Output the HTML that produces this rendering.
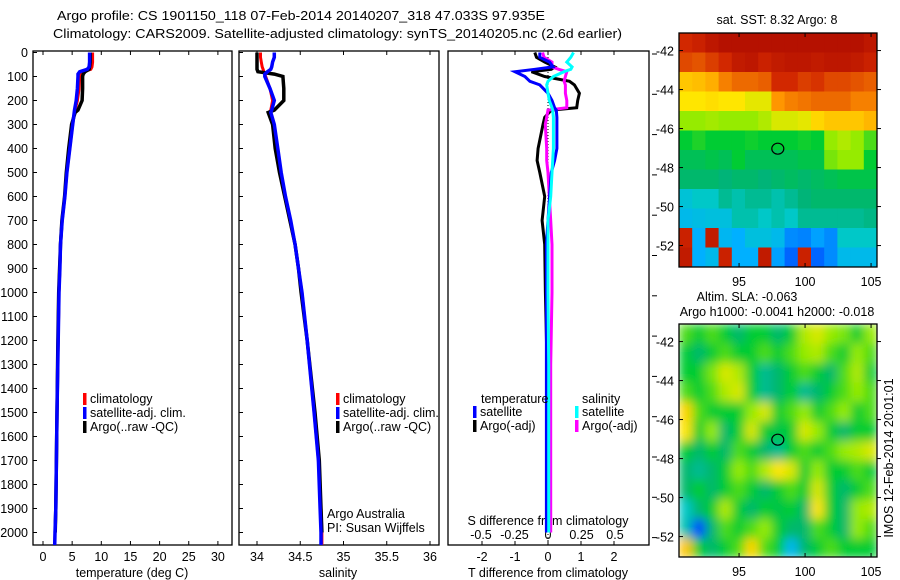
<!DOCTYPE html>
<html><head><meta charset="utf-8">
<style>
html,body{margin:0;padding:0;background:#fff;}
svg{display:block;font-family:"Liberation Sans",sans-serif;}
text{font-size:12.5px;fill:#000;}
</style></head>
<body>
<svg id="fig" width="900" height="580" viewBox="0 0 900 580" xmlns="http://www.w3.org/2000/svg">
<defs>
<clipPath id="cp1"><rect x="33" y="51" width="199" height="494"/></clipPath>
<clipPath id="cp2"><rect x="239" y="51" width="200" height="494"/></clipPath>
<clipPath id="cp3"><rect x="448" y="51" width="201" height="494"/></clipPath>
<clipPath id="cpm1"><rect x="679" y="33" width="198" height="234"/></clipPath>
<clipPath id="cpm2"><rect x="679" y="324" width="198" height="233"/></clipPath>
<filter id="blur" x="679" y="324" width="198" height="233" filterUnits="userSpaceOnUse"><feGaussianBlur stdDeviation="5" edgeMode="duplicate"/></filter>
</defs>
<text x="57" y="20" textLength="488" lengthAdjust="spacingAndGlyphs">Argo profile: CS 1901150_118 07-Feb-2014 20140207_318 47.033S 97.935E</text>
<text x="53" y="38" textLength="569" lengthAdjust="spacingAndGlyphs">Climatology: CARS2009. Satellite-adjusted climatology: synTS_20140205.nc (2.6d earlier)</text>
<g id="g"></g>
</svg>
<script>
// ---------- data ----------
const depthTicks=[0,100,200,300,400,500,600,700,800,900,1000,1100,1200,1300,1400,1500,1600,1700,1800,1900,2000];
const tempTicks=[0,5,10,15,20,25,30];
const salTicks=[34,34.5,35,35.5,36];
const salTickLabels=["34","34.5","35","35.5","36"];
const tdTicks=[-2,-1,0,1,2];
const sdTicks=[-0.5,-0.25,0,0.25,0.5];
const sdTickLabels=["-0.5","-0.25","0","0.25","0.5"];

const profDepth=[0,20,40,60,70,80,90,100,150,200,240,250,300,400,500,600,700,800,900,1000,1200,1500,1700,1900,2000,2055];
const tempClim=[8.5,8.5,8.5,8.4,8.2,7.0,6.4,6.3,6.2,5.9,5.5,5.4,5.1,4.6,4.1,3.75,3.3,3.0,2.9,2.75,2.6,2.4,2.3,2.2,2.05,2.0];
const tempSat=[8.0,8.0,8.0,7.9,7.6,6.3,6.0,6.0,5.9,5.7,5.4,5.35,5.1,4.6,4.1,3.75,3.3,3.0,2.9,2.75,2.6,2.4,2.3,2.2,2.05,2.0];
const tempArgo=[8.1,8.1,8.1,8.0,7.9,7.2,6.9,6.8,6.8,6.7,6.0,5.5,4.9,4.4,4.0,3.7,3.25,3.0,2.85,2.7,2.55,2.4,2.3,2.2,2.1,null];

const salClim=[34.04,34.04,34.05,34.06,34.07,34.08,34.09,34.1,34.15,34.18,34.16,34.14,34.19,34.23,34.27,34.32,34.38,34.44,34.48,34.52,34.58,34.66,34.71,34.74,34.75,34.75];
const salSat=[34.2,34.2,34.18,34.17,34.16,34.12,34.09,34.09,34.15,34.2,34.17,34.16,34.2,34.24,34.28,34.33,34.39,34.44,34.48,34.52,34.58,34.66,34.71,34.73,34.74,34.74];
const salArgo=[34.0,34.0,34.0,34.0,34.0,34.01,34.2,34.3,34.31,34.31,34.2,34.13,34.18,34.21,34.26,34.32,34.38,34.44,34.48,34.51,34.58,34.67,34.72,34.74,34.75,null];

const diffDepth=[0,20,40,60,70,80,100,120,135,170,200,230,240,270,300,400,450,500,600,700,800,1000,1300,1600,2000];
const tdSat=[-0.25,-0.25,0.05,0.15,-0.4,-1.0,-0.7,-0.55,-0.25,0.0,0.12,0.2,0.25,0.27,0.27,0.27,0.2,0.1,0.05,0.0,-0.05,-0.05,-0.05,-0.05,-0.05];
const tdArgo=[-0.4,-0.35,-0.1,0.2,0.1,-0.5,-0.1,0.65,0.8,0.95,0.9,0.87,0.1,-0.1,-0.15,-0.3,-0.33,-0.25,-0.1,-0.18,-0.1,-0.08,-0.03,0.0,0.0];
const sdSat=[0.19,0.17,0.14,0.18,0.17,0.12,0.04,0.0,-0.01,0.0,0.01,0.03,0.035,0.04,0.04,0.04,0.035,0.03,0.02,0.0,0.0,0.0,0.005,0.005,0.005];
const sdArgo=[-0.04,-0.03,0.03,0.03,0.08,0.14,0.13,0.12,0.13,0.13,0.14,0.14,0.0,-0.01,-0.02,-0.01,-0.01,0.0,0.01,0.02,0.03,0.03,0.02,0.02,0.02];

const sstGrid=[
[0.88,0.9,0.93,0.95,0.95,0.95,0.95,0.95,0.95,0.95,0.95,0.95,0.95,0.95,0.93],
[0.85,0.84,0.86,0.88,0.92,0.93,0.9,0.92,0.93,0.93,0.92,0.93,0.93,0.92,0.9],
[0.72,0.73,0.75,0.8,0.82,0.82,0.83,0.88,0.88,0.86,0.87,0.85,0.85,0.84,0.83],
[0.68,0.68,0.69,0.68,0.68,0.66,0.66,0.78,0.8,0.81,0.82,0.82,0.82,0.8,0.8],
[0.6,0.6,0.61,0.6,0.6,0.6,0.62,0.65,0.65,0.66,0.7,0.72,0.72,0.72,0.74],
[0.5,0.52,0.5,0.5,0.5,0.51,0.5,0.5,0.5,0.51,0.5,0.6,0.62,0.6,0.55],
[0.47,0.47,0.48,0.47,0.5,0.47,0.47,0.47,0.47,0.48,0.48,0.58,0.6,0.6,0.5],
[0.45,0.45,0.45,0.44,0.45,0.45,0.44,0.45,0.46,0.45,0.46,0.47,0.48,0.48,0.48],
[0.36,0.38,0.38,0.42,0.4,0.42,0.42,0.4,0.42,0.44,0.45,0.45,0.45,0.45,0.45],
[0.33,0.34,0.35,0.35,0.4,0.4,0.38,0.4,0.38,0.42,0.42,0.42,0.42,0.42,0.43],
[0.9,0.3,0.92,0.32,0.3,0.35,0.35,0.33,0.25,0.24,0.28,0.25,0.38,0.38,0.38],
[0.92,0.3,0.33,0.9,0.3,0.3,0.92,0.28,0.2,0.9,0.2,0.25,0.33,0.33,0.33]];
const slaGrid=[
[0.55,0.5,0.55,0.5,0.45,0.5,0.5,0.45,0.5,0.62,0.65,0.6,0.58,0.5,0.6],
[0.5,0.45,0.5,0.55,0.5,0.5,0.55,0.5,0.55,0.6,0.62,0.55,0.5,0.6,0.55],
[0.5,0.5,0.58,0.65,0.62,0.5,0.42,0.45,0.5,0.55,0.5,0.45,0.55,0.62,0.5],
[0.55,0.5,0.55,0.62,0.65,0.5,0.42,0.45,0.5,0.42,0.45,0.5,0.55,0.6,0.55],
[0.7,0.55,0.5,0.5,0.5,0.6,0.65,0.5,0.55,0.6,0.5,0.55,0.6,0.5,0.55],
[0.68,0.5,0.6,0.45,0.5,0.65,0.5,0.48,0.5,0.65,0.6,0.5,0.45,0.5,0.5],
[0.5,0.45,0.5,0.45,0.55,0.5,0.45,0.42,0.5,0.55,0.5,0.55,0.6,0.62,0.65],
[0.45,0.42,0.45,0.5,0.6,0.55,0.62,0.68,0.65,0.5,0.6,0.5,0.5,0.55,0.5],
[0.45,0.5,0.45,0.5,0.55,0.5,0.45,0.5,0.55,0.5,0.65,0.5,0.45,0.5,0.55],
[0.38,0.45,0.5,0.62,0.5,0.45,0.5,0.48,0.5,0.45,0.68,0.5,0.45,0.6,0.62],
[0.4,0.15,0.45,0.55,0.5,0.55,0.6,0.5,0.45,0.45,0.55,0.5,0.45,0.6,0.55],
[0.72,0.5,0.45,0.5,0.55,0.7,0.55,0.5,0.32,0.45,0.5,0.55,0.5,0.5,0.5]];
const gridLon0=90.45, gridLat0=-41.1;
const argoLon=97.935, argoLat=-47.033;
const lonTicks=[95,100,105];
const latTicks=[-42,-44,-46,-48,-50,-52];

// ---------- helpers ----------
const NS="http://www.w3.org/2000/svg";
const G=document.getElementById('g');
function mk(tag,at,parent){const e=document.createElementNS(NS,tag);for(const k in at)e.setAttribute(k,at[k]);(parent||G).appendChild(e);return e;}
function txt(x,y,s,anchor,parent){const t=mk('text',{x:x,y:y,'text-anchor':anchor||'start'},parent);t.textContent=s;return t;}
const yD=d=>52.5+d*0.24;
const xT=v=>43+v*5.83;
const xS=v=>257+(v-34)*86.5;
const xTD=v=>548+v*33;
const xSD=v=>548+v*134;

function frame(x,y,w,h,name){const r=mk('rect',{x:x,y:y,width:w,height:h,fill:'none',stroke:'#000','stroke-width':1.3});

}
function line(vals,depths,xf,color,w,clip,name){
  let d='';let started=false;
  for(let i=0;i<vals.length;i++){if(vals[i]===null){continue;}
    d+=(started?'L':'M')+xf(vals[i]).toFixed(1)+' '+yD(depths[i]).toFixed(1);started=true;}
  const p=mk('path',{d:d,fill:'none',stroke:color,'stroke-width':w,'clip-path':'url(#'+clip+')','stroke-linejoin':'miter'});
  
  
}
function legend(x,y,color,label,name){
  const r=mk('rect',{x:x,y:y-10,width:3.5,height:12,fill:color});
  
  
  const t=txt(x+7,y,label);
  
  
}

// ---------- panel 1: temperature ----------
frame(33,51,199,494,'temperature-panel');
depthTicks.forEach(d=>{mk('line',{x1:33,x2:37,y1:yD(d),y2:yD(d),stroke:'#000'});
  const t=txt(28,yD(d)+4.5,String(d),'end');});
tempTicks.forEach(v=>{mk('line',{x1:xT(v),x2:xT(v),y1:545,y2:541,stroke:'#000'});mk('line',{x1:xT(v),x2:xT(v),y1:51,y2:55,stroke:'#000'});
  const t=txt(xT(v),561,String(v),'middle');});
{const t=txt(132,577,'temperature (deg C)','middle');}
line(tempClim,profDepth,xT,'#ff0000',3,'cp1','temp-climatology-line');
line(tempArgo,profDepth,xT,'#000',3.5,'cp1','temp-argo-line');
line(tempSat,profDepth,xT,'#0000ff',3.5,'cp1','temp-satellite-line');
legend(83,403,'#ff0000','climatology','legend-climatology');
legend(83,417,'#0000ff','satellite-adj. clim.','legend-satellite-adj');
legend(83,431,'#000','Argo(..raw -QC)','legend-argo');

// ---------- panel 2: salinity ----------
frame(239,51,200,494,'salinity-panel');
depthTicks.forEach(d=>{mk('line',{x1:239,x2:243,y1:yD(d),y2:yD(d),stroke:'#000'});});
salTicks.forEach((v,i)=>{mk('line',{x1:xS(v),x2:xS(v),y1:545,y2:541,stroke:'#000'});mk('line',{x1:xS(v),x2:xS(v),y1:51,y2:55,stroke:'#000'});
  const t=txt(xS(v),561,salTickLabels[i],'middle');});
{const t=txt(338,577,'salinity','middle');}
line(salClim,profDepth,xS,'#ff0000',3,'cp2','sal-climatology-line');
line(salArgo,profDepth,xS,'#000',3.5,'cp2','sal-argo-line');
line(salSat,profDepth,xS,'#0000ff',3.5,'cp2','sal-satellite-line');
legend(336,403,'#ff0000','climatology','legend-climatology-sal');
legend(336,417,'#0000ff','satellite-adj. clim.','legend-satellite-adj-sal');
legend(336,431,'#000','Argo(..raw -QC)','legend-argo-sal');
{const t=txt(327,518,'Argo Australia');
 const u=txt(327,532,'PI: Susan Wijffels');}

// ---------- panel 3: differences ----------
frame(448,51,201,494,'difference-panel');
tdTicks.forEach(v=>{mk('line',{x1:xTD(v),x2:xTD(v),y1:545,y2:541,stroke:'#000'});mk('line',{x1:xTD(v),x2:xTD(v),y1:51,y2:55,stroke:'#000'});
  const t=txt(xTD(v),561,String(v),'middle');});
sdTicks.forEach((v,i)=>{const t=txt(xSD(v),539,sdTickLabels[i],'middle');});
for(let i=0;i<13;i++){const y=54+i*40.3;mk('line',{x1:652,x2:657,y1:y,y2:y,stroke:'#000'});}
mk('line',{x1:548,x2:548,y1:51,y2:545,stroke:'#000','stroke-dasharray':'1 2','stroke-width':1});
{const t=txt(548,525,'S difference from climatology','middle');
 const u=txt(548,577,'T difference from climatology','middle');}
line(tdArgo,diffDepth,xTD,'#000',3,'cp3','t-diff-argo-line');
line(sdArgo,diffDepth,xSD,'#ff00ff',3,'cp3','s-diff-argo-line');
line(tdSat,diffDepth,xTD,'#0000ff',3,'cp3','t-diff-satellite-line');
line(sdSat,diffDepth,xSD,'#00ffff',3,'cp3','s-diff-satellite-line');
{const t=txt(481,403,'temperature');
 const u=txt(582,403,'salinity');}
legend(473,416,'#0000ff','satellite','legend-t-satellite');
legend(473,430,'#000','Argo(-adj)','legend-t-argo');
legend(575,416,'#00ffff','satellite','legend-s-satellite');
legend(575,430,'#ff00ff','Argo(-adj)','legend-s-argo');

// ---------- maps ----------
const cstops=[[0,[0,0,143]],[0.15,[0,64,255]],[0.3,[0,176,255]],[0.38,[0,200,200]],[0.44,[0,180,120]],[0.5,[0,204,51]],[0.6,[150,235,0]],[0.68,[255,230,0]],[0.78,[255,150,0]],[0.88,[210,40,0]],[1,[160,0,0]]];
function cmap(v){for(let i=1;i<cstops.length;i++){if(v<=cstops[i][0]){const a=cstops[i-1],b=cstops[i];const f=(v-a[0])/(b[0]-a[0]);
  const c=a[1].map((x,k)=>Math.round(x+(b[1][k]-x)*f));return 'rgb('+c.join(',')+')';}}return 'rgb(160,0,0)';}
function mapPanel(grid,top,clip,name,blur){
  const xL=lon=>679+(lon-gridLon0)*13.2;
  const yL=lat=>top+(gridLat0-lat)*19.5;
  const grp=mk('g',{'clip-path':'url(#'+clip+')'});
  
  
  const inner=mk('g',blur?{filter:'url(#blur)'}:{},grp);
  grid.forEach((row,r)=>row.forEach((v,c)=>{
    const x0=xL(gridLon0+c),y0=yL(gridLat0-r);
    const cell=mk('rect',{x:x0,y:y0,width:13.7,height:20,fill:cmap(v)},inner);
    
    
  }));
  frame(679,top,198,clip==='cpm1'?234:233,name);
  const bottom=top+(clip==='cpm1'?234:233);
  lonTicks.forEach(l=>{mk('line',{x1:xL(l),x2:xL(l),y1:top,y2:top+4,stroke:'#000'});mk('line',{x1:xL(l),x2:xL(l),y1:bottom,y2:bottom-4,stroke:'#000'});
    const t=txt(xL(l),bottom+19,String(l),'middle');});
  latTicks.forEach(l=>{mk('line',{x1:877,x2:881,y1:yL(l),y2:yL(l),stroke:'#000'});mk('line',{x1:679,x2:683,y1:yL(l),y2:yL(l),stroke:'#000'});
    const t=txt(674,yL(l)+5,String(l),'end');});
  const m=mk('ellipse',{cx:xL(argoLon),cy:yL(argoLat),rx:6,ry:5.5,fill:'none',stroke:'#000','stroke-width':1.2});
  
  
}
mapPanel(sstGrid,33,'cpm1','sst-map',false);
mapPanel(slaGrid,324,'cpm2','sla-map',true);
{const t=txt(777,24,'sat. SST: 8.32 Argo: 8','middle');
 const a=txt(747,301,'Altim. SLA: -0.063','middle');
 const b=txt(777,316,'Argo h1000: -0.0041 h2000: -0.018','middle');
 const s=txt(0,0,'IMOS 12-Feb-2014 20:01:01','middle');s.setAttribute('transform','translate(893,458) rotate(-90)');
 }
</script>
</body></html>
